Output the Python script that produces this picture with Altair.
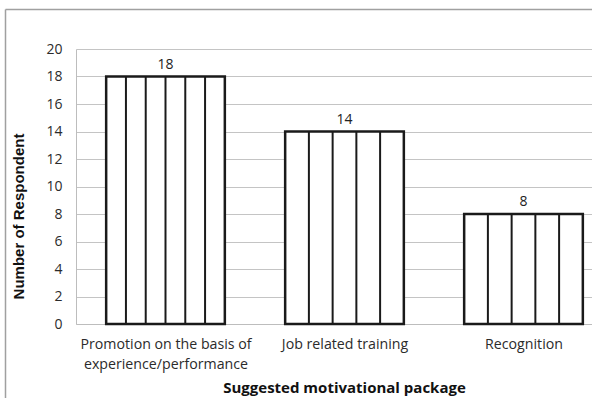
import textwrap
import altair as alt
import pandas as pd

# ---- data ----
categories = ["Promotion on the basis of experience/performance",
              "Job related training",
              "Recognition"]
respondents = [18, 14, 8]
stripe_counts = [6, 5, 5]          # columns of the vertical-line pattern in each bar
y_ticks = [0, 2, 4, 6, 8, 10, 12, 14, 16, 18, 20]

half_width = 0.3315               # half bar width, in category units
x_max = -0.5 + 516 / 179          # plot is cut at the right edge like the original

bars = pd.DataFrame({
    "idx": list(range(len(categories))),
    "category": categories,
    "value": respondents,
})
bars["x0"] = bars["idx"] - half_width
bars["x1"] = bars["idx"] + half_width

rows = []
for i, (v, n) in enumerate(zip(respondents, stripe_counts)):
    for k in range(1, n):
        rows.append({"pos": i - half_width + 2 * half_width * k / n, "value": v})
stripes = pd.DataFrame(rows)

# label expression with wrapped category names
parts = []
for i, c in enumerate(categories):
    lines = textwrap.wrap(c, 26)
    lit = "[" + ",".join("'" + l + "'" for l in lines) + "]" if len(lines) > 1 else "'" + c + "'"
    parts.append((i, lit))
expr = parts[-1][1]
for i, lit in reversed(parts[:-1]):
    expr = f"datum.value == {i} ? {lit} : ({expr})"

xscale = alt.Scale(domain=[-0.5, x_max], nice=False, zero=False)
yscale = alt.Scale(domain=[0, 20], nice=False)

FONT = "Open Sans"

x_axis = alt.Axis(values=[0, 1, 2], labelExpr=expr, grid=False, ticks=False,
                  tickSize=0, labelPadding=13, labelLineHeight=20,
                  labelOverlap=False, tickCount=20,
                  labelFont=FONT, labelFontSize=14.2, labelColor="#2b2b2b",
                  domainColor="#bdbdbd", domainWidth=1,
                  title="Suggested motivational package",
                  titleFont=FONT, titleFontSize=15, titleFontWeight="bold",
                  titleColor="#111111", titleX=268, titleY=63,
                  titleBaseline="middle", titleAlign="center")
y_axis = alt.Axis(values=y_ticks, labelOverlap=False, tickCount=40, format="d",
                  grid=True, gridColor="#c4c4c4", gridWidth=1,
                  ticks=False, tickSize=0, labelPadding=14,
                  labelFont=FONT, labelFontSize=14, labelColor="#2b2b2b",
                  domainColor="#bdbdbd", domainWidth=1,
                  title="Number of Respondent",
                  titleFont="Liberation Sans", titleFontSize=15,
                  titleFontWeight="bold", titleColor="#111111",
                  titleX=-58, titleY=167, titleAngle=270,
                  titleBaseline="middle", titleAlign="center")

base = alt.Chart(bars)

bar_layer = base.mark_rect(fill="white", stroke="#1a1a1a", strokeWidth=2.5).encode(
    x=alt.X("x0:Q", scale=xscale, axis=x_axis),
    x2="x1:Q",
    y=alt.Y("value:Q", scale=yscale, axis=y_axis),
    y2=alt.datum(0),
)

stripe_layer = alt.Chart(stripes).mark_rule(color="#1a1a1a", strokeWidth=2).encode(
    x=alt.X("pos:Q", scale=xscale, axis=x_axis),
    y=alt.Y("value:Q", scale=yscale, axis=y_axis),
    y2=alt.datum(0),
)

text_layer = base.mark_text(baseline="bottom", dy=-5, font=FONT, fontSize=14,
                            color="#222222").encode(
    x=alt.X("idx:Q", scale=xscale, axis=x_axis),
    y=alt.Y("value:Q", scale=yscale, axis=y_axis),
    text="value:Q",
)

frame_df = pd.DataFrame({"a": [0]})
frame_left = alt.Chart(frame_df).mark_rule(color="#a0a0a0", strokeWidth=1.5).encode(
    x=alt.value(-70.5), y=alt.value(-39.5), y2=alt.value(400))
frame_top = alt.Chart(frame_df).mark_rule(color="#a0a0a0", strokeWidth=1.5).encode(
    x=alt.value(-70.5), x2=alt.value(560), y=alt.value(-39.5))

chart = alt.layer(bar_layer, stripe_layer, text_layer, frame_left, frame_top).properties(
    width=516, height=275,
    autosize=alt.AutoSizeParams(type="none"),
    padding={"left": 76, "top": 49, "right": 0, "bottom": 74},
    background="white",
).configure_view(stroke=None)

chart.save("out.html", embed_options={"renderer": "svg", "actions": False})
